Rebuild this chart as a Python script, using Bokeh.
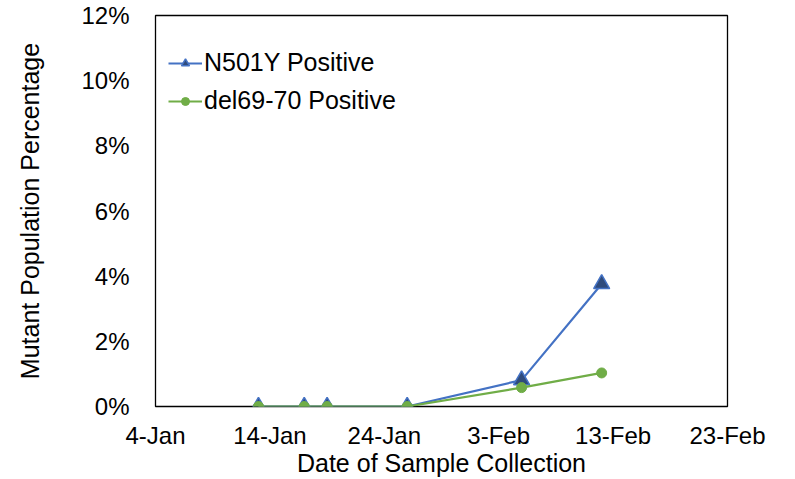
from datetime import datetime
from bokeh.plotting import figure
from bokeh.models import (Range1d, FixedTicker, CustomJSTickFormatter, PrintfTickFormatter,
                          Legend, LegendItem)
from bokeh.embed import file_html
from bokeh.resources import INLINE

# ---- data ----
dates = ["2021-01-13", "2021-01-17", "2021-01-19", "2021-01-26", "2021-02-05", "2021-02-12"]
n501y = [0.0, 0.0, 0.0, 0.0, 0.81, 3.76]
del6970 = [0.0, 0.0, 0.0, 0.0, 0.58, 1.03]
x_ticks = ["2021-01-04", "2021-01-14", "2021-01-24", "2021-02-03", "2021-02-13", "2021-02-23"]
y_ticks = [0, 2, 4, 6, 8, 10, 12]
series_names = ["N501Y Positive", "del69-70 Positive"]

def to_dt(s):
    return datetime.strptime(s, "%Y-%m-%d")

def to_ms(s):
    return (to_dt(s) - datetime(1970, 1, 1)).total_seconds() * 1000.0

xs = [to_dt(d) for d in dates]
FONT = "Liberation Sans"

p = figure(width=795, height=479, output_backend="svg", toolbar_location=None,
           x_axis_type="datetime",
           x_range=Range1d(to_dt(x_ticks[0]), to_dt(x_ticks[-1])),
           y_range=Range1d(0, 12),
           min_border_left=155, min_border_right=68, min_border_top=15, min_border_bottom=73)

p.background_fill_color = "white"
p.border_fill_color = "white"
p.outline_line_color = "black"
p.outline_line_width = 1.3
p.xgrid.visible = False
p.ygrid.visible = False

# axes
p.xaxis.ticker = FixedTicker(ticks=[to_ms(t) for t in x_ticks])
p.xaxis.formatter = CustomJSTickFormatter(code="""
const m = ["Jan","Feb","Mar","Apr","May","Jun","Jul","Aug","Sep","Oct","Nov","Dec"];
const d = new Date(tick);
return d.getUTCDate() + "-" + m[d.getUTCMonth()];
""")
p.yaxis.ticker = FixedTicker(ticks=y_ticks)
p.yaxis.formatter = PrintfTickFormatter(format="%d%%")

for ax in (p.xaxis[0], p.yaxis[0]):
    ax.axis_line_color = None
    ax.major_tick_line_color = None
    ax.minor_tick_line_color = None
    ax.major_tick_out = 0
    ax.major_tick_in = 0
    ax.major_label_text_font = FONT
    ax.major_label_text_font_size = "24px"
    ax.major_label_text_color = "black"
    ax.axis_label_text_font = FONT
    ax.axis_label_text_font_size = "25px"
    ax.axis_label_text_font_style = "normal"
    ax.axis_label_text_color = "black"

p.xaxis.axis_label = "Date of Sample Collection"
p.yaxis.axis_label = "Mutant Population Percentage"
p.xaxis.major_label_standoff = 15
p.xaxis.axis_label_standoff = -3
p.yaxis.major_label_standoff = 26
p.yaxis.axis_label_standoff = 34

# series
l1 = p.line(xs, n501y, line_color="#4472C4", line_width=2.2)
m1 = p.scatter(xs, n501y, marker="triangle", size=16, fill_color="#2F4B7C",
               line_color="#4472C4", line_width=1.5)
l2 = p.line(xs, del6970, line_color="#70AD47", line_width=2.2)
m2 = p.scatter(xs, del6970, marker="circle", size=10, fill_color="#70AD47",
               line_color="#70AD47", line_width=1)

legend = Legend(items=[LegendItem(label=series_names[0], renderers=[l1, m1]),
                       LegendItem(label=series_names[1], renderers=[l2, m2])],
                location=(13, 291))
legend.background_fill_alpha = 0
legend.border_line_color = None
legend.label_text_font = FONT
legend.label_text_font_size = "25px"
legend.label_text_color = "black"
legend.glyph_width = 34
legend.glyph_height = 20
legend.label_standoff = 2
legend.spacing = 9
legend.padding = 0
legend.margin = 0
p.add_layout(legend)

open("out.html", "w").write(file_html(p, INLINE))
